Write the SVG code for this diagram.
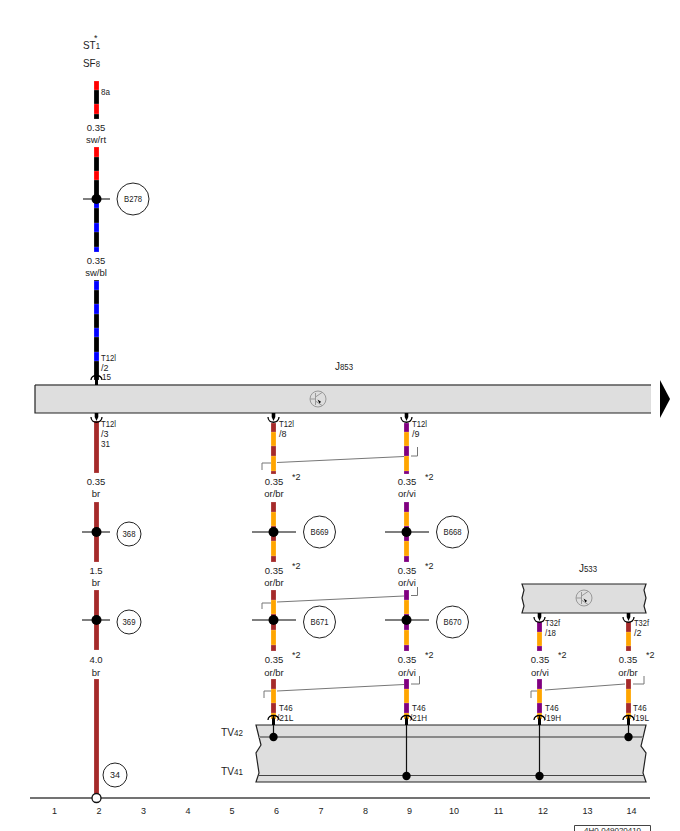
<svg xmlns="http://www.w3.org/2000/svg" width="680" height="831" viewBox="0 0 680 831">
<style>
text{font-family:"Liberation Sans",Arial,sans-serif;font-size:9.5px;fill:#222}
.c{text-anchor:middle}
.s{font-size:9px}
.s text{font-size:9px}
.b{font-size:11.5px}
.sub{font-size:9px}
.box{fill:#dedede}
.edge{fill:none;stroke:#222;stroke-width:1.2}
.br{fill:none;stroke:#777;stroke-width:1}
.ring{fill:#fff;stroke:#222;stroke-width:1}
.x{stroke:#555;stroke-width:1.3}
.dot{fill:#000}
.arc{fill:none;stroke:#000;stroke-width:1.3}
.ic{fill:none;stroke:#999;stroke-width:1}
#connectors rect{stroke:#fff;stroke-opacity:.35;stroke-width:.6}
</style>
<defs>
<g id="tu"><path class="arc" d="M-5.500 4C-5.500 -2 5.500 -2 5.500 4"/><path class="dot" d="M-1.500 3L0 -1L1.500 3L1.500 9L-1.500 9Z"/></g>
<g id="td"><path class="arc" d="M-5.500 4C-5.500 11 5.500 11 5.500 4"/><path class="dot" d="M-1.800 0L1.800 0L1.800 4L0 8L-1.800 4Z"/></g>
<g id="tr"><circle class="ic" r="8"/><path class="ic" d="M-2.500 -6V6M-8 0H-2.500M-2.500 -2L4 -6.500M-2.500 2L4 6.500"/><path class="dot" d="M-0.500 0.500L3 2.800L1.500 4.500Z"/></g>
</defs>

<g id="connectors">
<g id="wire-col2">
<rect x="94" y="81" width="5" height="38" fill="#000"/>
<rect x="94" y="81" width="5" height="9" fill="#f00"/><rect x="94" y="104" width="5" height="10" fill="#f00"/>
<rect x="94" y="147" width="5" height="105" fill="#000"/>
<rect x="94" y="147" width="5" height="10" fill="#f00"/><rect x="94" y="171" width="5" height="9" fill="#f00"/>
<rect x="94" y="198" width="5" height="10" fill="#00f"/><rect x="94" y="223" width="5" height="9" fill="#00f"/><rect x="94" y="247" width="5" height="5" fill="#00f"/>
<rect x="94" y="280" width="5" height="100" fill="#000"/>
<rect x="94" y="281" width="5" height="9" fill="#00f"/><rect x="94" y="304" width="5" height="10" fill="#00f"/><rect x="94" y="328" width="5" height="9" fill="#00f"/><rect x="94" y="352" width="5" height="9" fill="#00f"/>
<rect x="94" y="421" width="5" height="52" fill="#a52a2a"/>
<rect x="94" y="502" width="5" height="60" fill="#a52a2a"/>
<rect x="94" y="590" width="5" height="60" fill="#a52a2a"/>
<rect x="94" y="679" width="5" height="119" fill="#a52a2a"/>
</g>
<g id="wire-col6">
<rect x="271" y="423" width="5" height="51" fill="#ffa500"/>
<rect x="271" y="423" width="5" height="9" fill="#a52a2a"/><rect x="271" y="446" width="5" height="10" fill="#a52a2a"/><rect x="271" y="471" width="5" height="3" fill="#a52a2a"/>
<rect x="271" y="502" width="5" height="60" fill="#ffa500"/>
<rect x="271" y="502" width="5" height="10" fill="#a52a2a"/><rect x="271" y="526" width="5" height="15" fill="#a52a2a"/><rect x="271" y="556" width="5" height="6" fill="#a52a2a"/>
<rect x="271" y="590" width="5" height="61" fill="#ffa500"/>
<rect x="271" y="590" width="5" height="10" fill="#a52a2a"/><rect x="271" y="614" width="5" height="16" fill="#a52a2a"/><rect x="271" y="645" width="5" height="6" fill="#a52a2a"/>
<rect x="271" y="679" width="5" height="40" fill="#ffa500"/>
<rect x="271" y="679" width="5" height="10" fill="#a52a2a"/><rect x="271" y="703" width="5" height="10" fill="#a52a2a"/>
</g>
<g id="wire-col9">
<rect x="404" y="423" width="5" height="51" fill="#ffa500"/>
<rect x="404" y="423" width="5" height="9" fill="#800080"/><rect x="404" y="446" width="5" height="10" fill="#800080"/><rect x="404" y="471" width="5" height="3" fill="#800080"/>
<rect x="404" y="502" width="5" height="60" fill="#ffa500"/>
<rect x="404" y="502" width="5" height="10" fill="#800080"/><rect x="404" y="526" width="5" height="15" fill="#800080"/><rect x="404" y="556" width="5" height="6" fill="#800080"/>
<rect x="404" y="590" width="5" height="61" fill="#ffa500"/>
<rect x="404" y="590" width="5" height="10" fill="#800080"/><rect x="404" y="614" width="5" height="16" fill="#800080"/><rect x="404" y="645" width="5" height="6" fill="#800080"/>
<rect x="404" y="679" width="5" height="40" fill="#ffa500"/>
<rect x="404" y="679" width="5" height="10" fill="#800080"/><rect x="404" y="703" width="5" height="10" fill="#800080"/>
</g>
<g id="wire-col12">
<rect x="537" y="622" width="5" height="29" fill="#ffa500"/>
<rect x="537" y="622" width="5" height="10" fill="#800080"/><rect x="537" y="646" width="5" height="5" fill="#800080"/>
<rect x="537" y="679" width="5" height="40" fill="#ffa500"/>
<rect x="537" y="679" width="5" height="10" fill="#800080"/><rect x="537" y="703" width="5" height="10" fill="#800080"/>
</g>
<g id="wire-col14">
<rect x="626" y="622" width="5" height="29" fill="#ffa500"/>
<rect x="626" y="622" width="5" height="10" fill="#a52a2a"/><rect x="626" y="646" width="5" height="5" fill="#a52a2a"/>
<rect x="626" y="679" width="5" height="40" fill="#ffa500"/>
<rect x="626" y="679" width="5" height="10" fill="#a52a2a"/><rect x="626" y="703" width="5" height="10" fill="#a52a2a"/>
</g>
<g id="shield-brackets">
<path class="br" d="M262 470V463H271M277 462.500L404 456.500M411 456H417.500V447"/>
<path class="br" d="M262 609V603H271M277 602L404 596M411 595.500H417.500V587"/>
<path class="br" d="M264 698V691H271M277 691L404 684.500M411 684H419.500V676"/>
<path class="br" d="M531 698V691H537M545 690L625 684M633 684H644V676"/>
</g>
<g id="crossings">
<path class="x" d="M83 199H110M82 532H110M82 620H110M252 532H296M385 532H429M252 620H296M385 620H429"/>
</g>
</g>

<g id="box-J853">
<rect class="box" x="35" y="385" width="616" height="28"/>
<path d="M35 385H651" stroke="#555" stroke-width="1.300" fill="none"/>
<path class="edge" d="M35 385V413H651"/>
<use href="#tr" x="318" y="399"/>
<text x="335" y="370" textLength="18" lengthAdjust="spacingAndGlyphs"><tspan class="b">J</tspan><tspan class="sub">853</tspan></text>
<path d="M660 380L670 399L660 418Z" fill="#000"/>
</g>
<g id="box-J533">
<path class="box" d="M522 584H646L644 590L646 598L644 606L646 613H522L524 606L522 598L524 590Z"/>
<path class="edge" d="M522 584H646L644 590L646 598L644 606L646 613H522L524 606L522 598L524 590Z"/>
<use href="#tr" x="584" y="598"/>
<text x="579" y="572" textLength="18" lengthAdjust="spacingAndGlyphs"><tspan class="b">J</tspan><tspan class="sub">533</tspan></text>
</g>
<g id="box-TV">
<path class="box" d="M256 725H646L641 746L646 753L643 773L646 782H256L259 773L256 753L261 745Z"/>
<path class="edge" d="M256 725H646L641 746L646 753L643 773L646 782H256L259 773L256 753L261 745Z"/>
<path d="M259 737H643" stroke="#888" stroke-width="2" fill="none"/>
<path d="M258 775.500H644" stroke="#444" stroke-width="1.200" fill="none"/>
<path d="M273.500 720V737M406.500 720V776M539.500 720V776M628.500 720V737" stroke="#111" stroke-width="1.200" fill="none"/>
<circle class="dot" cx="273.500" cy="737" r="4.200"/><circle class="dot" cx="628.500" cy="737" r="4.200"/>
<circle class="dot" cx="406.500" cy="776" r="4.200"/><circle class="dot" cx="539.500" cy="776" r="4.200"/>
<text x="221" y="736" textLength="22" lengthAdjust="spacingAndGlyphs"><tspan class="b">TV</tspan><tspan class="sub">42</tspan></text>
<text x="221" y="775" textLength="22" lengthAdjust="spacingAndGlyphs"><tspan class="b">TV</tspan><tspan class="sub">41</tspan></text>
</g>

<g id="terminals">
<use href="#tu" x="96.500" y="376"/><use href="#td" x="96.500" y="413"/>
<use href="#td" x="273.500" y="413"/><use href="#td" x="406.500" y="413"/>
<use href="#td" x="539.500" y="613"/><use href="#td" x="628.500" y="613"/>
<use href="#tu" x="273.500" y="716"/><use href="#tu" x="406.500" y="716"/><use href="#tu" x="539.500" y="716"/><use href="#tu" x="628.500" y="716"/>
</g>

<g id="splices">
<circle class="dot" cx="96.500" cy="199" r="5"/><circle class="dot" cx="96.500" cy="532" r="5"/><circle class="dot" cx="96.500" cy="620" r="5"/>
<circle class="dot" cx="273.500" cy="532" r="5"/><circle class="dot" cx="406.500" cy="532" r="5"/>
<circle class="dot" cx="273.500" cy="620" r="5"/><circle class="dot" cx="406.500" cy="620" r="5"/>
</g>

<g id="node-B278"><circle class="ring" cx="133" cy="199" r="16"/><text class="s" x="124" y="202" textLength="18" lengthAdjust="spacingAndGlyphs">B278</text></g>
<g id="node-368"><circle class="ring" cx="129" cy="534" r="12"/><text class="s" x="122.500" y="537" textLength="13" lengthAdjust="spacingAndGlyphs">368</text></g>
<g id="node-369"><circle class="ring" cx="129" cy="622" r="12"/><text class="s" x="122.500" y="625" textLength="13" lengthAdjust="spacingAndGlyphs">369</text></g>
<g id="node-34"><circle class="ring" cx="115" cy="775" r="12"/><text class="c s" x="115" y="778">34</text></g>
<g id="node-B669"><circle class="ring" cx="319.500" cy="532" r="16"/><text class="s" x="310.500" y="535" textLength="18" lengthAdjust="spacingAndGlyphs">B669</text></g>
<g id="node-B668"><circle class="ring" cx="452.500" cy="532" r="16"/><text class="s" x="443.500" y="535" textLength="18" lengthAdjust="spacingAndGlyphs">B668</text></g>
<g id="node-B671"><circle class="ring" cx="319.500" cy="622" r="16"/><text class="s" x="310.500" y="625" textLength="18" lengthAdjust="spacingAndGlyphs">B671</text></g>
<g id="node-B670"><circle class="ring" cx="452.500" cy="622" r="16"/><text class="s" x="443.500" y="625" textLength="18" lengthAdjust="spacingAndGlyphs">B670</text></g>
<g id="node-ground"><path d="M30 798H650" stroke="#444" stroke-width="1.300" fill="none"/><circle cx="96.500" cy="798" r="4.500" fill="#fff" stroke="#111" stroke-width="1.300"/></g>

<g id="labels">
<text x="83" y="49" textLength="17" lengthAdjust="spacingAndGlyphs"><tspan class="b">ST</tspan><tspan class="sub">1</tspan></text>
<text x="94" y="41" class="s">*</text>
<text x="83" y="67" textLength="17" lengthAdjust="spacingAndGlyphs"><tspan class="b">SF</tspan><tspan class="sub">8</tspan></text>
<text class="s" x="101" y="95" textLength="9" lengthAdjust="spacingAndGlyphs">8a</text>
<g class="c">
<text x="96" y="131">0.35</text><text x="96" y="143">sw/rt</text>
<text x="96" y="264">0.35</text><text x="96" y="276">sw/bl</text>
<text x="96" y="485">0.35</text><text x="96" y="497">br</text>
<text x="96" y="574">1.5</text><text x="96" y="586">br</text>
<text x="96" y="663">4.0</text><text x="96" y="676">br</text>
<text x="274" y="485">0.35</text><text x="274" y="497">or/br</text>
<text x="274" y="574">0.35</text><text x="274" y="586">or/br</text>
<text x="274" y="663">0.35</text><text x="274" y="676">or/br</text>
<text x="407" y="485">0.35</text><text x="407" y="497">or/vi</text>
<text x="407" y="574">0.35</text><text x="407" y="586">or/vi</text>
<text x="407" y="663">0.35</text><text x="407" y="676">or/vi</text>
<text x="540" y="663">0.35</text><text x="540" y="676">or/vi</text>
<text x="628" y="663">0.35</text><text x="628" y="676">or/br</text>
</g>
<g class="s">
<text x="292" y="480">*2</text><text x="425" y="480">*2</text>
<text x="292" y="569">*2</text><text x="425" y="569">*2</text>
<text x="292" y="658">*2</text><text x="425" y="658">*2</text>
<text x="558" y="658">*2</text><text x="646" y="658">*2</text>
<text x="101" y="361" textLength="15" lengthAdjust="spacingAndGlyphs">T12l</text><text x="101" y="371">/2</text><text x="102" y="380" textLength="9" lengthAdjust="spacingAndGlyphs">15</text>
<text x="101" y="427" textLength="15" lengthAdjust="spacingAndGlyphs">T12l</text><text x="101" y="437">/3</text><text x="101" y="447" textLength="9" lengthAdjust="spacingAndGlyphs">31</text>
<text x="279" y="427" textLength="15" lengthAdjust="spacingAndGlyphs">T12l</text><text x="279" y="437">/8</text>
<text x="412" y="427" textLength="15" lengthAdjust="spacingAndGlyphs">T12l</text><text x="412" y="437">/9</text>
<text x="545" y="626" textLength="15" lengthAdjust="spacingAndGlyphs">T32f</text><text x="545" y="636" textLength="11" lengthAdjust="spacingAndGlyphs">/18</text>
<text x="634" y="626" textLength="15" lengthAdjust="spacingAndGlyphs">T32f</text><text x="634" y="636">/2</text>
<text x="279" y="711" textLength="13.700" lengthAdjust="spacingAndGlyphs">T46</text><text x="277" y="721" textLength="16.500" lengthAdjust="spacingAndGlyphs">/21L</text>
<text x="412" y="711" textLength="13.700" lengthAdjust="spacingAndGlyphs">T46</text><text x="410" y="721" textLength="17" lengthAdjust="spacingAndGlyphs">/21H</text>
<text x="545" y="711" textLength="13.700" lengthAdjust="spacingAndGlyphs">T46</text><text x="544" y="721" textLength="17" lengthAdjust="spacingAndGlyphs">/19H</text>
<text x="633" y="711" textLength="13.700" lengthAdjust="spacingAndGlyphs">T46</text><text x="633" y="721" textLength="16" lengthAdjust="spacingAndGlyphs">/19L</text>
</g>
<g class="c s">
<text x="54.500" y="814">1</text><text x="99" y="814">2</text><text x="143.500" y="814">3</text><text x="188" y="814">4</text><text x="232" y="814">5</text><text x="276.500" y="814">6</text><text x="321" y="814">7</text><text x="365.500" y="814">8</text><text x="409.500" y="814">9</text><text x="454" y="814">10</text><text x="498.500" y="814">11</text><text x="543" y="814">12</text><text x="587.500" y="814">13</text><text x="631.500" y="814">14</text>
</g>
</g>
<g id="drawing-ref">
<path d="M574.500 832V825.500H650.500V832" fill="none" stroke="#444"/>
<text x="584" y="833" font-size="8" style="font-size:8px" textLength="57" lengthAdjust="spacingAndGlyphs">4H0-049020410</text>
</g>
</svg>
